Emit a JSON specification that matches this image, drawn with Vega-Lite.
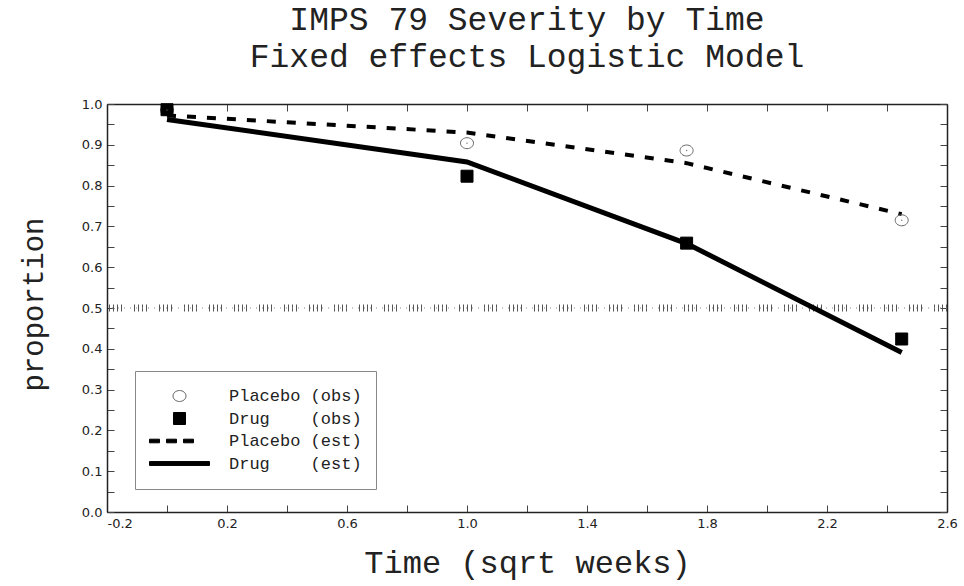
{
  "$schema": "https://vega.github.io/schema/vega-lite/v6.json",
  "width": 840,
  "height": 408,
  "autosize": {"type": "none"},
  "padding": {"left": 107, "top": 104, "right": 17, "bottom": 74},
  "background": "white",
  "title": {
    "text": ["IMPS 79 Severity by Time", "Fixed effects Logistic Model"],
    "anchor": "middle",
    "frame": "group",
    "font": "Liberation Mono",
    "fontSize": 33,
    "fontWeight": "normal",
    "color": "#222",
    "lineHeight": 37,
    "baseline": "bottom",
    "offset": 32,
    "dy": 41
  },
  "config": {
    "view": {"stroke": null},
    "axis": {
      "grid": false,
      "domainColor": "#222",
      "domainWidth": 1.5,
      "tickColor": "#444",
      "tickWidth": 1,
      "tickSize": -7,
      "labelFont": "DejaVu Sans",
      "labelFontSize": 13,
      "labelColor": "#222",
      "titleFont": "Liberation Mono",
      "titleFontWeight": "normal",
      "titleColor": "#222"
    }
  },
  "datasets": {
    "pts": [
      {"time": 0, "value": 0.985, "group": "Placebo", "kind": "obs", "series": "Placebo (obs)\u00a0\u00a0\u00a0"},
      {"time": 1, "value": 0.904, "group": "Placebo", "kind": "obs", "series": "Placebo (obs)\u00a0\u00a0\u00a0"},
      {"time": 1.732, "value": 0.886, "group": "Placebo", "kind": "obs", "series": "Placebo (obs)\u00a0\u00a0\u00a0"},
      {"time": 2.449, "value": 0.715, "group": "Placebo", "kind": "obs", "series": "Placebo (obs)\u00a0\u00a0\u00a0"},
      {"time": 0, "value": 0.986, "group": "Drug", "kind": "obs", "series": "Drug\u00a0\u00a0\u00a0\u00a0(obs)\u00a0\u00a0\u00a0"},
      {"time": 1, "value": 0.823, "group": "Drug", "kind": "obs", "series": "Drug\u00a0\u00a0\u00a0\u00a0(obs)\u00a0\u00a0\u00a0"},
      {"time": 1.732, "value": 0.659, "group": "Drug", "kind": "obs", "series": "Drug\u00a0\u00a0\u00a0\u00a0(obs)\u00a0\u00a0\u00a0"},
      {"time": 2.449, "value": 0.424, "group": "Drug", "kind": "obs", "series": "Drug\u00a0\u00a0\u00a0\u00a0(obs)\u00a0\u00a0\u00a0"},
      {"time": 0, "value": 0.972, "group": "Placebo", "kind": "est", "series": "Placebo (est)\u00a0\u00a0\u00a0"},
      {"time": 1, "value": 0.930, "group": "Placebo", "kind": "est", "series": "Placebo (est)\u00a0\u00a0\u00a0"},
      {"time": 1.732, "value": 0.855, "group": "Placebo", "kind": "est", "series": "Placebo (est)\u00a0\u00a0\u00a0"},
      {"time": 2.449, "value": 0.730, "group": "Placebo", "kind": "est", "series": "Placebo (est)\u00a0\u00a0\u00a0"},
      {"time": 0, "value": 0.962, "group": "Drug", "kind": "est", "series": "Drug\u00a0\u00a0\u00a0\u00a0(est)\u00a0\u00a0\u00a0"},
      {"time": 1, "value": 0.858, "group": "Drug", "kind": "est", "series": "Drug\u00a0\u00a0\u00a0\u00a0(est)\u00a0\u00a0\u00a0"},
      {"time": 1.732, "value": 0.658, "group": "Drug", "kind": "est", "series": "Drug\u00a0\u00a0\u00a0\u00a0(est)\u00a0\u00a0\u00a0"},
      {"time": 2.449, "value": 0.391, "group": "Drug", "kind": "est", "series": "Drug\u00a0\u00a0\u00a0\u00a0(est)\u00a0\u00a0\u00a0"}
    ],
    "ref": [{"ref": 0.5}]
  },
  "data": {"name": "pts"},
  "resolve": {"axis": {"x": "independent", "y": "independent"}},
  "layer": [
    {
      "data": {"name": "ref"},
      "mark": {"type": "rule", "color": "#555", "strokeWidth": 7, "strokeDash": [1, 3, 1, 3, 1, 3, 1, 12]},
      "encoding": {"y": {"field": "ref", "type": "quantitative", "axis": null}}
    },
    {
      "data": {"name": "ref"},
      "mark": {"type": "rule", "color": "#888", "strokeWidth": 1.2, "strokeDash": [1, 5]},
      "encoding": {"y": {"field": "ref", "type": "quantitative", "axis": null}}
    },
    {
      "transform": [{"filter": "datum.group == 'Placebo' && datum.kind == 'est'"}],
      "mark": {"type": "line", "color": "black", "strokeWidth": 4, "strokeDash": [9, 11], "strokeCap": "butt"},
      "encoding": {
        "x": {
          "field": "time", "type": "quantitative",
          "scale": {"domain": [-0.2, 2.6], "nice": false, "zero": false},
          "axis": {
            "orient": "bottom",
            "values": [-0.2, 0, 0.2, 0.4, 0.6, 0.8, 1.0, 1.2, 1.4, 1.6, 1.8, 2.0, 2.2, 2.4, 2.6],
            "labelExpr": "abs(round(datum.value*10)) % 4 == 2 ? (datum.value < 0 ? '-' + format(-datum.value, '.1f') : format(datum.value, '.1f')) : ''",
            "labelFlush": false,
            "labelOverlap": false,
            "labelAlign": {"condition": {"test": "datum.value < -0.1", "value": "left"}, "value": "center"},
            "labelPadding": 12,
            "title": "Time (sqrt weeks)",
            "titleFontSize": 32,
            "titleY": 60,
            "titleBaseline": "alphabetic"
          }
        },
        "y": {
          "field": "value", "type": "quantitative",
          "scale": {"domain": [0, 1], "nice": false, "zero": false},
          "axis": {
            "orient": "left",
            "values": [0, 0.05, 0.1, 0.15, 0.2, 0.25, 0.3, 0.35, 0.4, 0.45, 0.5, 0.55, 0.6, 0.65, 0.7, 0.75, 0.8, 0.85, 0.9, 0.95, 1.0],
            "labelExpr": "round(datum.value*20) % 2 == 0 ? format(datum.value, '.1f') : ''",
            "labelFlush": false,
            "labelOverlap": false,
            "labelPadding": 12,
            "title": "proportion",
            "titleFontSize": 29,
            "titleX": -65,
            "titleY": 200,
            "titleAngle": 270,
            "titleAlign": "center",
            "titleBaseline": "alphabetic"
          }
        }
      }
    },
    {
      "transform": [{"filter": "datum.group == 'Drug' && datum.kind == 'est'"}],
      "mark": {"type": "line", "color": "black", "strokeWidth": 5, "strokeCap": "butt"},
      "encoding": {
        "x": {
          "field": "time", "type": "quantitative",
          "axis": {
            "orient": "top",
            "values": [-0.2, 0, 0.2, 0.4, 0.6, 0.8, 1.0, 1.2, 1.4, 1.6, 1.8, 2.0, 2.2, 2.4, 2.6],
            "labels": false,
            "title": null
          }
        },
        "y": {
          "field": "value", "type": "quantitative",
          "axis": {
            "orient": "right",
            "values": [0, 0.05, 0.1, 0.15, 0.2, 0.25, 0.3, 0.35, 0.4, 0.45, 0.5, 0.55, 0.6, 0.65, 0.7, 0.75, 0.8, 0.85, 0.9, 0.95, 1.0],
            "labels": false,
            "title": null
          }
        }
      }
    },
    {
      "transform": [{"filter": "datum.kind == 'obs'"}],
      "mark": {"type": "point", "filled": true, "size": 3600, "strokeWidth": 1, "opacity": 1},
      "encoding": {
        "x": {"field": "time", "type": "quantitative", "axis": null},
        "y": {"field": "value", "type": "quantitative", "axis": null},
        "shape": {
          "field": "series", "type": "nominal",
          "scale": {
            "domain": ["Placebo (obs)\u00a0\u00a0\u00a0", "Drug\u00a0\u00a0\u00a0\u00a0(obs)\u00a0\u00a0\u00a0", "Placebo (est)\u00a0\u00a0\u00a0", "Drug\u00a0\u00a0\u00a0\u00a0(est)\u00a0\u00a0\u00a0"],
            "range": [
              "M-0.217,0A0.217,0.183,0,1,0,0.217,0A0.217,0.183,0,1,0,-0.217,0Z",
              "M-0.2,-0.2H0.2V0.2H-0.2Z",
              "M-1,-0.06H-0.667V0.06H-1ZM-0.433,-0.06H-0.1V0.06H-0.433ZM0.133,-0.06H0.467V0.06H0.133Z",
              "M-1,-0.065H1V0.065H-1Z"
            ]
          },
          "legend": {
            "title": null,
            "orient": "none",
            "legendX": 28,
            "legendY": 267,
            "symbolSize": 3600,
            "clipHeight": 22,
            "rowPadding": 0.5,
            "padding": 14,
            "labelOffset": 19,
            "labelFont": "Liberation Mono",
            "labelFontSize": 17,
            "labelColor": "#222",
            "labelLimit": 400,
            "strokeColor": "#888",
            "fillColor": "white",
            "symbolStrokeWidth": 1
          }
        },
        "fill": {
          "field": "series", "type": "nominal",
          "scale": {
            "domain": ["Placebo (obs)\u00a0\u00a0\u00a0", "Drug\u00a0\u00a0\u00a0\u00a0(obs)\u00a0\u00a0\u00a0", "Placebo (est)\u00a0\u00a0\u00a0", "Drug\u00a0\u00a0\u00a0\u00a0(est)\u00a0\u00a0\u00a0"],
            "range": ["transparent", "black", "black", "black"]
          }
        },
        "stroke": {
          "field": "series", "type": "nominal",
          "scale": {
            "domain": ["Placebo (obs)\u00a0\u00a0\u00a0", "Drug\u00a0\u00a0\u00a0\u00a0(obs)\u00a0\u00a0\u00a0", "Placebo (est)\u00a0\u00a0\u00a0", "Drug\u00a0\u00a0\u00a0\u00a0(est)\u00a0\u00a0\u00a0"],
            "range": ["#666", "black", "black", "black"]
          }
        }
      }
    },
    {
      "transform": [{"filter": "datum.group == 'Placebo' && datum.kind == 'obs'"}],
      "mark": {"type": "circle", "size": 2, "color": "#777", "opacity": 1},
      "encoding": {
        "x": {"field": "time", "type": "quantitative", "axis": null},
        "y": {"field": "value", "type": "quantitative", "axis": null}
      }
    }
  ]
}
